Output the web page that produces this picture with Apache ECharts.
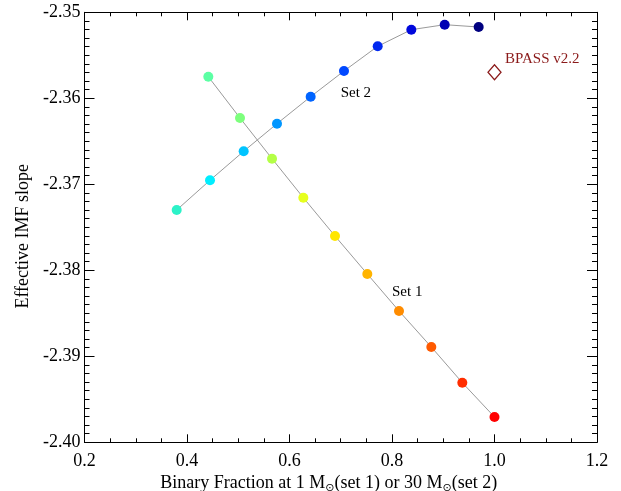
<!DOCTYPE html>
<html>
<head>
<meta charset="utf-8">
<script src="https://cdn.jsdelivr.net/npm/echarts@6/dist/echarts.min.js"></script>
<style>
html,body{margin:0;padding:0;background:#fff;}
#chart{width:621px;height:491px;}
</style>
</head>
<body>
<div id="chart"></div>
<script>
// ---- data ----
var set1X = [0.4416, 0.5034, 0.5659, 0.6270, 0.6888, 0.7518, 0.8137, 0.8767, 0.9372, 1.0000];
var set1Y = [-2.35749, -2.36229, -2.36702, -2.37156, -2.37601, -2.38043, -2.38473, -2.38892, -2.39307, -2.39706];
var set2X = [0.3799, 0.4449, 0.5106, 0.5756, 0.6413, 0.7063, 0.7721, 0.8377, 0.9028, 0.9691];
var set2Y = [-2.37299, -2.36953, -2.36616, -2.36295, -2.35981, -2.35683, -2.35395, -2.35202, -2.35144, -2.35171];
var bpassX = [1.0];
var bpassY = [-2.35698];
var xTicks = [0.2, 0.4, 0.6, 0.8, 1.0, 1.2];
var yTicks = [-2.40, -2.39, -2.38, -2.37, -2.36, -2.35];
var annText = ['Set 2', 'Set 1', 'BPASS v2.2'];
var annX = [0.6999, 0.8000, 1.0205];
var annY = [-2.35942, -2.38249, -2.35547];

// ---- styles ----
var set1Colors = ['#5cffa4', '#7dff7d', '#b4ff46', '#e6ff1e', '#ffe600', '#ffb400', '#ff8c00', '#ff5a00', '#ff2d00', '#ff0000'];
var set2Colors = ['#2cf2c8', '#00eeff', '#00c4ff', '#0096ff', '#0064ff', '#0048ff', '#0028f0', '#0008dc', '#0000b4', '#000080'];
var annColors = ['#000000', '#000000', '#8b1a1a'];
var FONT = "'Liberation Serif','Times New Roman',serif";

function pts(xs, ys, cols) {
  return xs.map(function (x, i) {
    return { value: [x, ys[i]], itemStyle: { color: cols[i] } };
  });
}

var chart = echarts.init(document.getElementById('chart'), null, { renderer: 'canvas' });

function xAx(pos, showLabel) {
  return {
    type: 'value', position: pos, min: xTicks[0], max: xTicks[xTicks.length - 1], interval: 0.2,
    axisLine: { show: true, onZero: false, lineStyle: { color: '#000', width: 1 } },
    axisTick: { show: true, inside: true, length: 8, lineStyle: { color: '#000' } },
    minorTick: { show: true, splitNumber: 4, length: 4, lineStyle: { color: '#000' } },
    splitLine: { show: false },
    axisLabel: {
      show: showLabel, margin: 10, fontFamily: FONT, fontSize: 18, color: '#000',
      formatter: function (v) { return v.toFixed(1); }
    }
  };
}
function yAx(pos, showLabel) {
  return {
    type: 'value', position: pos, min: yTicks[0], max: yTicks[yTicks.length - 1], interval: 0.01,
    axisLine: { show: true, onZero: false, lineStyle: { color: '#000', width: 1 } },
    axisTick: { show: true, inside: true, length: 10, lineStyle: { color: '#000' } },
    minorTick: { show: true, splitNumber: 10, length: 5, lineStyle: { color: '#000' } },
    splitLine: { show: false },
    axisLabel: {
      show: showLabel, margin: 4, fontFamily: FONT, fontSize: 18, color: '#000',
      formatter: function (v) { return v.toFixed(2); }
    }
  };
}

var xBottom = xAx('bottom', true);
xBottom.name = '{a|Binary Fraction at 1 M}{s|\u2299}{a|(set 1) or 30 M}{s|\u2299}{a|(set 2)}';
xBottom.nameLocation = 'middle';
xBottom.nameGap = 31;
xBottom.nameMoveOverlap = false;
xBottom.nameTextStyle = {
  fontFamily: FONT, fontSize: 18, color: '#000', padding: [0, 24, 0, 0],
  rich: {
    a: { fontFamily: FONT, fontSize: 18, color: '#000', lineHeight: 20 },
    s: { fontFamily: "'DejaVu Sans',sans-serif", fontSize: 11, color: '#000', lineHeight: 8, verticalAlign: 'bottom' }
  }
};
var yLeft = yAx('left', true);
yLeft.name = 'Effective IMF slope';
yLeft.nameLocation = 'middle';
yLeft.nameRotate = 90;
yLeft.nameGap = 52;
yLeft.nameMoveOverlap = false;
yLeft.nameTextStyle = { fontFamily: FONT, fontSize: 18, color: '#000', padding: [0, 18, 0, 0] };

var option = {
  animation: false,
  backgroundColor: '#fff',
  grid: { left: 84.5, right: 24, top: 12.3, bottom: 48.7, containLabel: false, outerBoundsMode: 'none' },
  xAxis: [xBottom, xAx('top', false)],
  yAxis: [yLeft, yAx('right', false)],
  series: [
    {
      type: 'line', xAxisIndex: 0, yAxisIndex: 0,
      data: pts(set1X, set1Y, set1Colors),
      symbol: 'circle', symbolSize: 10, showAllSymbol: true,
      lineStyle: { color: '#9a9a9a', width: 1 }
    },
    {
      type: 'line', xAxisIndex: 0, yAxisIndex: 0,
      data: pts(set2X, set2Y, set2Colors),
      symbol: 'circle', symbolSize: 10, showAllSymbol: true,
      lineStyle: { color: '#9a9a9a', width: 1 }
    },
    {
      type: 'scatter', xAxisIndex: 0, yAxisIndex: 0,
      data: bpassX.map(function (x, i) { return [x, bpassY[i]]; }),
      symbol: 'diamond', symbolSize: [13, 15],
      itemStyle: { color: '#ffffff', borderColor: '#8b1a1a', borderWidth: 1.3, opacity: 1 }
    },
    {
      type: 'scatter', xAxisIndex: 0, yAxisIndex: 0, silent: true,
      symbolSize: 0,
      itemStyle: { opacity: 1 },
      data: annText.map(function (t, i) {
        return {
          value: [annX[i], annY[i]],
          label: {
            show: true, position: 'right', distance: 0, formatter: t,
            fontFamily: FONT, fontSize: 15, color: annColors[i], opacity: 1, textBorderWidth: 0
          }
        };
      })
    }
  ]
};
chart.setOption(option);
</script>
</body>
</html>
